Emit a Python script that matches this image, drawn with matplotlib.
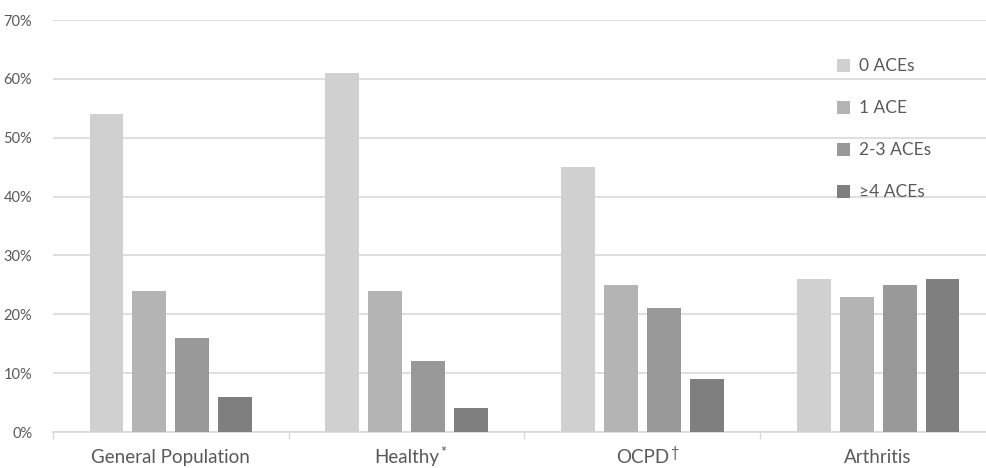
import matplotlib.pyplot as plt
import numpy as np

plt.rcParams['font.family'] = ['Lato', 'DejaVu Sans']

groups = ['General Population', 'Healthy', 'OCPD', 'Arthritis']
group_marks = ['', '*', '\u2020', '']
series = ['0 ACEs', '1 ACE', '2-3 ACEs', '\u22654 ACEs']
values = [
    [54, 24, 16, 6],
    [61, 24, 12, 4],
    [45, 25, 21, 9],
    [26, 23, 25, 26],
]
colors = ['#d0d0d0', '#b4b4b4', '#999999', '#7f7f7f']

text_col = '#595959'
grid_col = '#d9d9d9'

fig = plt.figure(figsize=(9.87, 4.68), dpi=100)
ax = fig.add_axes([53 / 987, 36 / 468, 943 / 987, 412 / 468])

vals = np.array(values) / 100.0
x = np.arange(len(groups))
w = 0.144
step = 0.182
for j, name in enumerate(series):
    ax.bar(x + (j - 1.5) * step, vals[:, j], width=w, color=colors[j],
           label=name, zorder=3)

ax.set_xlim(-0.5, len(groups) - 0.5)
ax.set_ylim(0, 0.7)
ax.set_yticks(np.arange(0, 0.71, 0.1))
ax.set_yticklabels(['%d%%' % round(v * 100) for v in np.arange(0, 0.71, 0.1)])
ax.yaxis.grid(True, color=grid_col, linewidth=1.2, zorder=0)
ax.tick_params(axis='y', length=0, pad=15, labelsize=10.5, labelcolor=text_col)

ax.set_xticks(x)
ax.set_xticklabels(groups)
ax.tick_params(axis='x', length=0, pad=12, labelsize=13.5, labelcolor=text_col)
ax.set_xticks(np.arange(-0.5, len(groups)), minor=True)
ax.tick_params(axis='x', which='minor', length=5, color=grid_col, width=1)

for s in ['top', 'right', 'left']:
    ax.spines[s].set_visible(False)
ax.spines['bottom'].set_color(grid_col)
ax.spines['bottom'].set_linewidth(1.2)

# superscript marks after the group names
fig.canvas.draw()
for lab, mark in zip(ax.get_xticklabels(), group_marks):
    if mark:
        ax.annotate(mark, xy=(1.0, 1.0), xycoords=lab, xytext=(1, 2),
                    textcoords='offset points', ha='left', va='top',
                    fontsize=10.5, color=text_col)

leg = ax.legend(loc='upper left', bbox_to_anchor=(0.815, 0.945), frameon=False,
                fontsize=12.5, handlelength=0.75, handleheight=0.75,
                labelspacing=1.5, handletextpad=0.5)
for t in leg.get_texts():
    t.set_color(text_col)

fig.savefig('out.png', dpi=100)
